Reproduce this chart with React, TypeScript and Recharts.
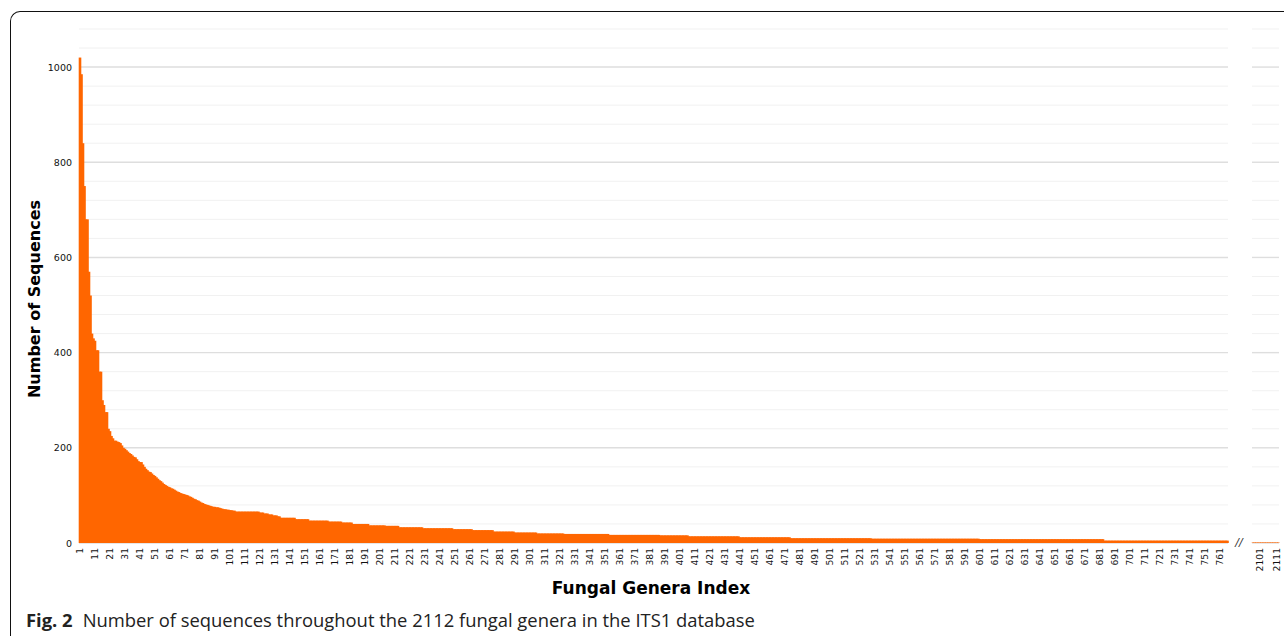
import React from 'react'
import { BarChart, Bar, XAxis, YAxis, CartesianGrid } from 'recharts'

// sequence counts for the most abundant genera, one per genus index
const headCounts = [
  1020, 985, 840, 750, 680, 680, 570, 520, 440, 430,
  425, 405, 405, 360, 360, 300, 290, 275, 275, 240,
  235, 225, 220, 215, 215, 213, 212, 210, 205, 200,
  198, 195, 192, 189, 187, 184, 181, 180, 176, 172,
  170, 170, 165, 160, 156, 153, 150, 149, 146, 143,
  141, 138, 135, 132, 130, 127, 124, 122, 120, 118,
  117, 115, 114, 112, 110, 108, 107, 105, 104, 103,
  102, 101, 100, 98, 97, 95, 93, 92, 90, 89,
  87, 85, 84, 82, 81, 80, 79, 78, 77, 76,
  76, 75, 75, 74, 73, 72, 71, 71, 70, 70,
  69, 69, 68, 68,
]

// plateaus further down the tail: [count, number of genera]
const tailRuns: [number, number][] = [
  [66, 16], [64, 3], [62, 3], [60, 3], [58, 3], [56, 2],
  [53, 10], [50, 9], [47, 13], [45, 9], [43, 7], [40, 11],
  [37, 11], [36, 9], [33, 16], [31, 20], [29, 13], [27, 14],
  [24, 14], [22, 15], [20, 18], [19, 30], [17, 34], [16, 19],
  [14, 34], [12, 34], [10, 54], [9, 72], [8, 83], [5, 83],
]

// last genera shown after the axis break
const endIndex = [2097, 2098, 2099, 2100, 2101, 2102, 2103, 2104, 2105, 2106, 2107, 2108, 2109, 2110, 2111, 2112]
const endCounts = [1, 1, 1, 1, 1, 1, 1, 1, 1, 1, 1, 1, 1, 1, 1, 1]

const yTicks = [0, 40, 80, 120, 160, 200, 240, 280, 320, 360, 400, 440, 480, 520, 560, 600, 640, 680, 720, 760, 800, 840, 880, 920, 960, 1000, 1040, 1080]
const endTicks = [2101, 2111]

const ORANGE = '#FF6600'
const TICK_FONT = 'DejaVu Sans, Verdana, sans-serif'

const counts: number[] = [...headCounts]
tailRuns.forEach(([v, n]) => {
  for (let i = 0; i < n; i++) counts.push(v)
})
const mainData = counts.map((v, i) => ({ idx: i + 1, value: v }))
const endData = endIndex.map((idx, i) => ({ idx, value: endCounts[i] }))

const gridLine = (props: any) => {
  const v = yTicks[props.index]
  const major = v % 200 === 0
  return (
    <line
      key={`g-${props.index}`}
      x1={props.x1}
      x2={props.x2}
      y1={props.y1}
      y2={props.y2}
      stroke={major ? '#dedede' : '#f1f1f1'}
      strokeWidth={major ? 1.4 : 1}
    />
  )
}

const yTick = ({ x, y, payload }: any) =>
  payload.value % 200 === 0 ? (
    <text x={x} y={y} dy={3.5} textAnchor="end" fill="#111" style={{ fontSize: 9.5, fontFamily: TICK_FONT }}>
      {payload.value}
    </text>
  ) : (
    <g />
  )

const xTick = ({ x, y, payload }: any) => (
  <text
    transform={`translate(${x},${y}) rotate(-90)`}
    dy={3.2}
    textAnchor="end"
    fill="#111"
    style={{ fontSize: 9.2, fontFamily: TICK_FONT }}
  >
    {payload.value}
  </text>
)

const barShape = (p: any) => (
  <rect x={p.x - 0.3} y={p.y} width={p.width + 0.6} height={p.height} fill={ORANGE} />
)

export default function App() {
  return (
    <div style={{ position: 'fixed', left: 0, top: 0, width: 1284, height: 636, background: '#fff', overflow: 'hidden' }}>
      <div
        style={{
          position: 'absolute', left: 10, top: 11, width: 1400, height: 800,
          borderTop: '1px solid #111', borderLeft: '1px solid #111', borderTopLeftRadius: 10,
        }}
      />
      <div style={{ position: 'absolute', left: 0, top: 0 }}>
        <BarChart width={1230} height={600} data={mainData} barCategoryGap={0} barGap={0}
          margin={{ top: 29, right: 2, left: 19, bottom: 17 }}>
          <CartesianGrid vertical={false} horizontal={gridLine} />
          <XAxis dataKey="idx" interval={9} tickLine={false} axisLine={false} tickSize={0} tickMargin={5} height={40} tick={xTick} />
          <YAxis domain={[0, 1080]} ticks={yTicks} interval={0} width={60} tickLine={false} axisLine={false} tickSize={0} tickMargin={7} tick={yTick} />
          <Bar dataKey="value" fill={ORANGE} isAnimationActive={false} shape={barShape} />
        </BarChart>
      </div>
      <div style={{ position: 'absolute', left: 1240, top: 0 }}>
        <BarChart width={44} height={600} data={endData} barCategoryGap={0} barGap={0}
          margin={{ top: 29, right: 5, left: 12, bottom: 17 }}>
          <CartesianGrid vertical={false} horizontal={gridLine} />
          <XAxis dataKey="idx" ticks={endTicks} interval={0} tickLine={false} axisLine={false} tickSize={0} tickMargin={5} height={40} tick={xTick} />
          <YAxis hide domain={[0, 1080]} ticks={yTicks} interval={0} />
          <Bar dataKey="value" fill={ORANGE} isAnimationActive={false} shape={barShape} />
        </BarChart>
      </div>
      <svg width={1284} height={636} style={{ position: 'absolute', left: 0, top: 0, pointerEvents: 'none' }}>
        <text x={1239} y={546} textAnchor="middle" fill="#333" style={{ fontSize: 11, fontFamily: TICK_FONT, fontStyle: 'italic' }}>//</text>
        <text x={651} y={594} textAnchor="middle" fill="#000" style={{ fontSize: 17, fontWeight: 'bold', fontFamily: TICK_FONT }}>
          Fungal Genera Index
        </text>
        <text transform="translate(40,299) rotate(-90)" textAnchor="middle" fill="#000" style={{ fontSize: 16, fontWeight: 'bold', fontFamily: TICK_FONT }}>
          Number of Sequences
        </text>
        <text x={26} y={627} fill="#222" style={{ fontSize: 18.4, fontFamily: 'Open Sans, sans-serif' }}>
          <tspan fontWeight="bold">Fig. 2</tspan>
          <tspan dx={10}>Number of sequences throughout the 2112 fungal genera in the ITS1 database</tspan>
        </text>
      </svg>
    </div>
  )
}
